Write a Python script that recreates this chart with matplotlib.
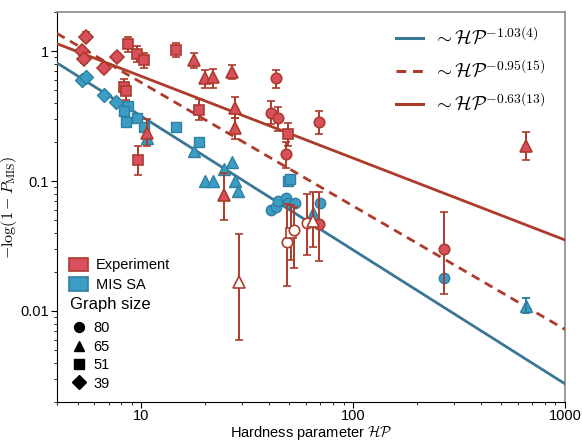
import matplotlib.pyplot as plt
import numpy as np
from matplotlib.lines import Line2D
from matplotlib.patches import Patch

plt.rcParams['font.family'] = ['Liberation Sans', 'DejaVu Sans']
plt.rcParams['mathtext.fontset'] = 'cm'

RED_FACE = '#d8505e'
RED_EDGE = '#ad3b2c'
BLUE_FACE = '#3b9dc4'
BLUE_EDGE = '#2f7fa3'
BLUE_LINE = '#3a7797'

# experiment, filled markers (x, y, lower bound, upper bound)
exp_circle_x = [43.2, 40.7, 44.3, 48.0, 68.6, 268, 69.2]
exp_circle_y = [0.617, 0.335, 0.307, 0.162, 0.284, 0.0299, 0.0468]
exp_circle_lo = [0.518, 0.273, 0.243, 0.125, 0.229, 0.0135, 0.0244]
exp_circle_hi = [0.714, 0.41, 0.372, 0.198, 0.344, 0.058, 0.0828]

exp_tri_x = [17.7, 20.0, 21.9, 26.9, 27.7, 27.8, 10.6, 24.5, 653]
exp_tri_y = [0.85, 0.617, 0.628, 0.693, 0.366, 0.258, 0.236, 0.078, 0.187]
exp_tri_lo = [0.743, 0.518, 0.52, 0.607, 0.307, 0.212, 0.187, 0.050, 0.144]
exp_tri_hi = [0.97, 0.714, 0.726, 0.779, 0.443, 0.307, 0.298, 0.115, 0.24]

exp_sq_x = [8.61, 9.55, 10.33, 8.3, 8.46, 9.6, 14.5, 18.8, 49.3]
exp_sq_y = [1.14, 0.944, 0.85, 0.533, 0.489, 0.144, 1.02, 0.35, 0.229]
exp_sq_lo = [0.98, 0.82, 0.743, 0.47, 0.42, 0.111, 0.90, 0.294, 0.187]
exp_sq_hi = [1.28, 1.086, 0.966, 0.61, 0.55, 0.187, 1.15, 0.428, 0.278]

exp_dia_x = [5.5, 5.27, 5.37, 6.68, 7.64]
exp_dia_y = [1.29, 1.0, 0.865, 0.735, 0.90]
exp_dia_lo = [1.19, 0.93, 0.81, 0.69, 0.84]
exp_dia_hi = [1.41, 1.07, 0.93, 0.79, 0.96]

# experiment, open markers
open_marker = ['^', 'o', 's', 'o', 'o', '^']
open_x = [28.9, 48.5, 50.8, 52.6, 60.3, 64.4]
open_y = [0.0167, 0.034, 0.040, 0.042, 0.0476, 0.049]
open_lo = [0.00595, 0.0155, 0.0245, 0.0213, 0.027, 0.031]
open_hi = [0.0388, 0.0667, 0.0656, 0.0634, 0.079, 0.082]

# MIS SA
sa_circle_x = [40.7, 43.2, 44.3, 48.0, 49.3, 52.9, 69.9, 268]
sa_circle_y = [0.060, 0.063, 0.0708, 0.0736, 0.0676, 0.0676, 0.0676, 0.0179]
sa_tri_x = [10.6, 17.7, 20.0, 21.9, 24.5, 26.9, 27.7, 28.6, 64.4, 653]
sa_tri_y = [0.216, 0.171, 0.100, 0.100, 0.124, 0.140, 0.100, 0.0837, 0.057, 0.0109]
sa_sq_x = [8.61, 8.3, 8.46, 9.55, 10.33, 14.5, 18.8, 49.3, 50.5]
sa_sq_y = [0.376, 0.344, 0.286, 0.307, 0.26, 0.26, 0.20, 0.100, 0.103]
sa_dia_x = [5.27, 5.5, 6.68, 7.59]
sa_dia_y = [0.60, 0.63, 0.461, 0.403]
sa_err_x = [653]
sa_err_y = [0.0109]
sa_err_lo = [0.0096]
sa_err_hi = [0.0126]

# power-law fits: prefactor, exponent, label
fit_amp = [3.38, 5.1, 2.73]
fit_exp = [-1.03, -0.95, -0.63]
fit_labels = [r'$\sim \mathcal{HP}^{-1.03(4)}$',
              r'$\sim \mathcal{HP}^{-0.95(15)}$',
              r'$\sim \mathcal{HP}^{-0.63(13)}$']

graph_sizes = ['80', '65', '51', '39']
size_markers = ['o', '^', 's', 'D']
marker_size = {'o': 7.5, '^': 8, 's': 7, 'D': 7}


def plot_exp(ax, x, y, lo, hi, marker, face=RED_FACE, z=5):
    x, y, lo, hi = map(np.asarray, (x, y, lo, hi))
    ax.errorbar(x, y, yerr=[y - lo, hi - y], fmt=marker,
                ms=marker_size[marker], mfc=face, mec=RED_EDGE, mew=1.2,
                ecolor=RED_EDGE, elinewidth=1.4, capsize=3, capthick=1.4,
                zorder=z)


fig, ax = plt.subplots(figsize=(5.82, 4.44), dpi=100)
fig.subplots_adjust(left=0.098, right=0.971, top=0.973, bottom=0.095)

xs = np.array([4, 1000])
styles = [(BLUE_LINE, '-'), (RED_EDGE, (0, (3.2, 2.2))), (RED_EDGE, '-')]
for amp, k, (c, ls) in zip(fit_amp, fit_exp, styles):
    ax.plot(xs, amp * xs ** k, color=c, ls=ls, lw=2.0, zorder=3)

for mk, x, y in zip(size_markers, [sa_circle_x, sa_tri_x, sa_sq_x, sa_dia_x],
                    [sa_circle_y, sa_tri_y, sa_sq_y, sa_dia_y]):
    ax.plot(x, y, mk, ms=marker_size[mk], mfc=BLUE_FACE, mec=BLUE_EDGE,
            mew=1.0, ls='none', zorder=4)
sa_err_y_a = np.asarray(sa_err_y)
ax.errorbar(sa_err_x, sa_err_y,
            yerr=[sa_err_y_a - np.asarray(sa_err_lo), np.asarray(sa_err_hi) - sa_err_y_a],
            fmt='none', ecolor=BLUE_EDGE, elinewidth=1.4, capsize=3, capthick=1.4, zorder=4)

plot_exp(ax, exp_circle_x, exp_circle_y, exp_circle_lo, exp_circle_hi, 'o')
plot_exp(ax, exp_tri_x, exp_tri_y, exp_tri_lo, exp_tri_hi, '^')
plot_exp(ax, exp_sq_x, exp_sq_y, exp_sq_lo, exp_sq_hi, 's')
plot_exp(ax, exp_dia_x, exp_dia_y, exp_dia_lo, exp_dia_hi, 'D')
for mk, x, y, lo, hi in zip(open_marker, open_x, open_y, open_lo, open_hi):
    plot_exp(ax, [x], [y], [lo], [hi], mk, face='white', z=6)

ax.set_xscale('log')
ax.set_yscale('log')
ax.set_xlim(4, 1000)
ax.set_ylim(0.002, 2)
ax.set_xticks([10, 100, 1000])
ax.set_xticklabels(['10', '100', '1000'])
ax.set_yticks([0.01, 0.1, 1])
ax.set_yticklabels(['0.01', '0.1', '1'])
ax.tick_params(which='both', direction='out', labelsize=10.5, top=False, right=False, pad=2)
ax.tick_params(axis='x', which='both', pad=1.5)
ax.tick_params(which='major', length=4)
ax.tick_params(which='minor', length=2.5)
for side in ['top', 'right']:
    ax.spines[side].set_color('#8a8a8a')
    ax.spines[side].set_linewidth(1.2)
ax.set_xlabel(r'Hardness parameter $\mathcal{HP}$', fontsize=10.5, labelpad=0)
ax.set_ylabel(r'$-\log(1-P_{\rm MIS})$', fontsize=11.5, labelpad=1)

fit_handles = [Line2D([], [], color=c, ls=ls, lw=2.2) for c, ls in styles]
leg1 = ax.legend(fit_handles, fit_labels, loc='upper right', bbox_to_anchor=(0.995, 1.007),
                 frameon=False, fontsize=14, handlelength=1.4, labelspacing=0.55,
                 handletextpad=0.5)
ax.add_artist(leg1)

src_handles = [Patch(facecolor=RED_FACE, edgecolor=RED_EDGE, lw=1.2),
               Patch(facecolor=BLUE_FACE, edgecolor=BLUE_EDGE, lw=1.2)]
leg2 = ax.legend(src_handles, ['Experiment', 'MIS SA'], loc='upper left',
                 bbox_to_anchor=(-0.003, 0.403), frameon=False, fontsize=10.5,
                 handlelength=1.35, handleheight=1.0, labelspacing=0.35, handletextpad=0.5)
ax.add_artist(leg2)

ax.text(0.025, 0.249, 'Graph size', transform=ax.transAxes, fontsize=12, va='center')
size_handles = [Line2D([], [], marker=m, color='black', ls='none', ms=marker_size[m] * 0.95)
                for m in size_markers]
ax.legend(size_handles, graph_sizes, loc='upper left', bbox_to_anchor=(0.0, 0.24),
          frameon=False, fontsize=10.5, handlelength=1.2, labelspacing=0.3, handletextpad=0.4)

fig.savefig('out.png', dpi=100)
